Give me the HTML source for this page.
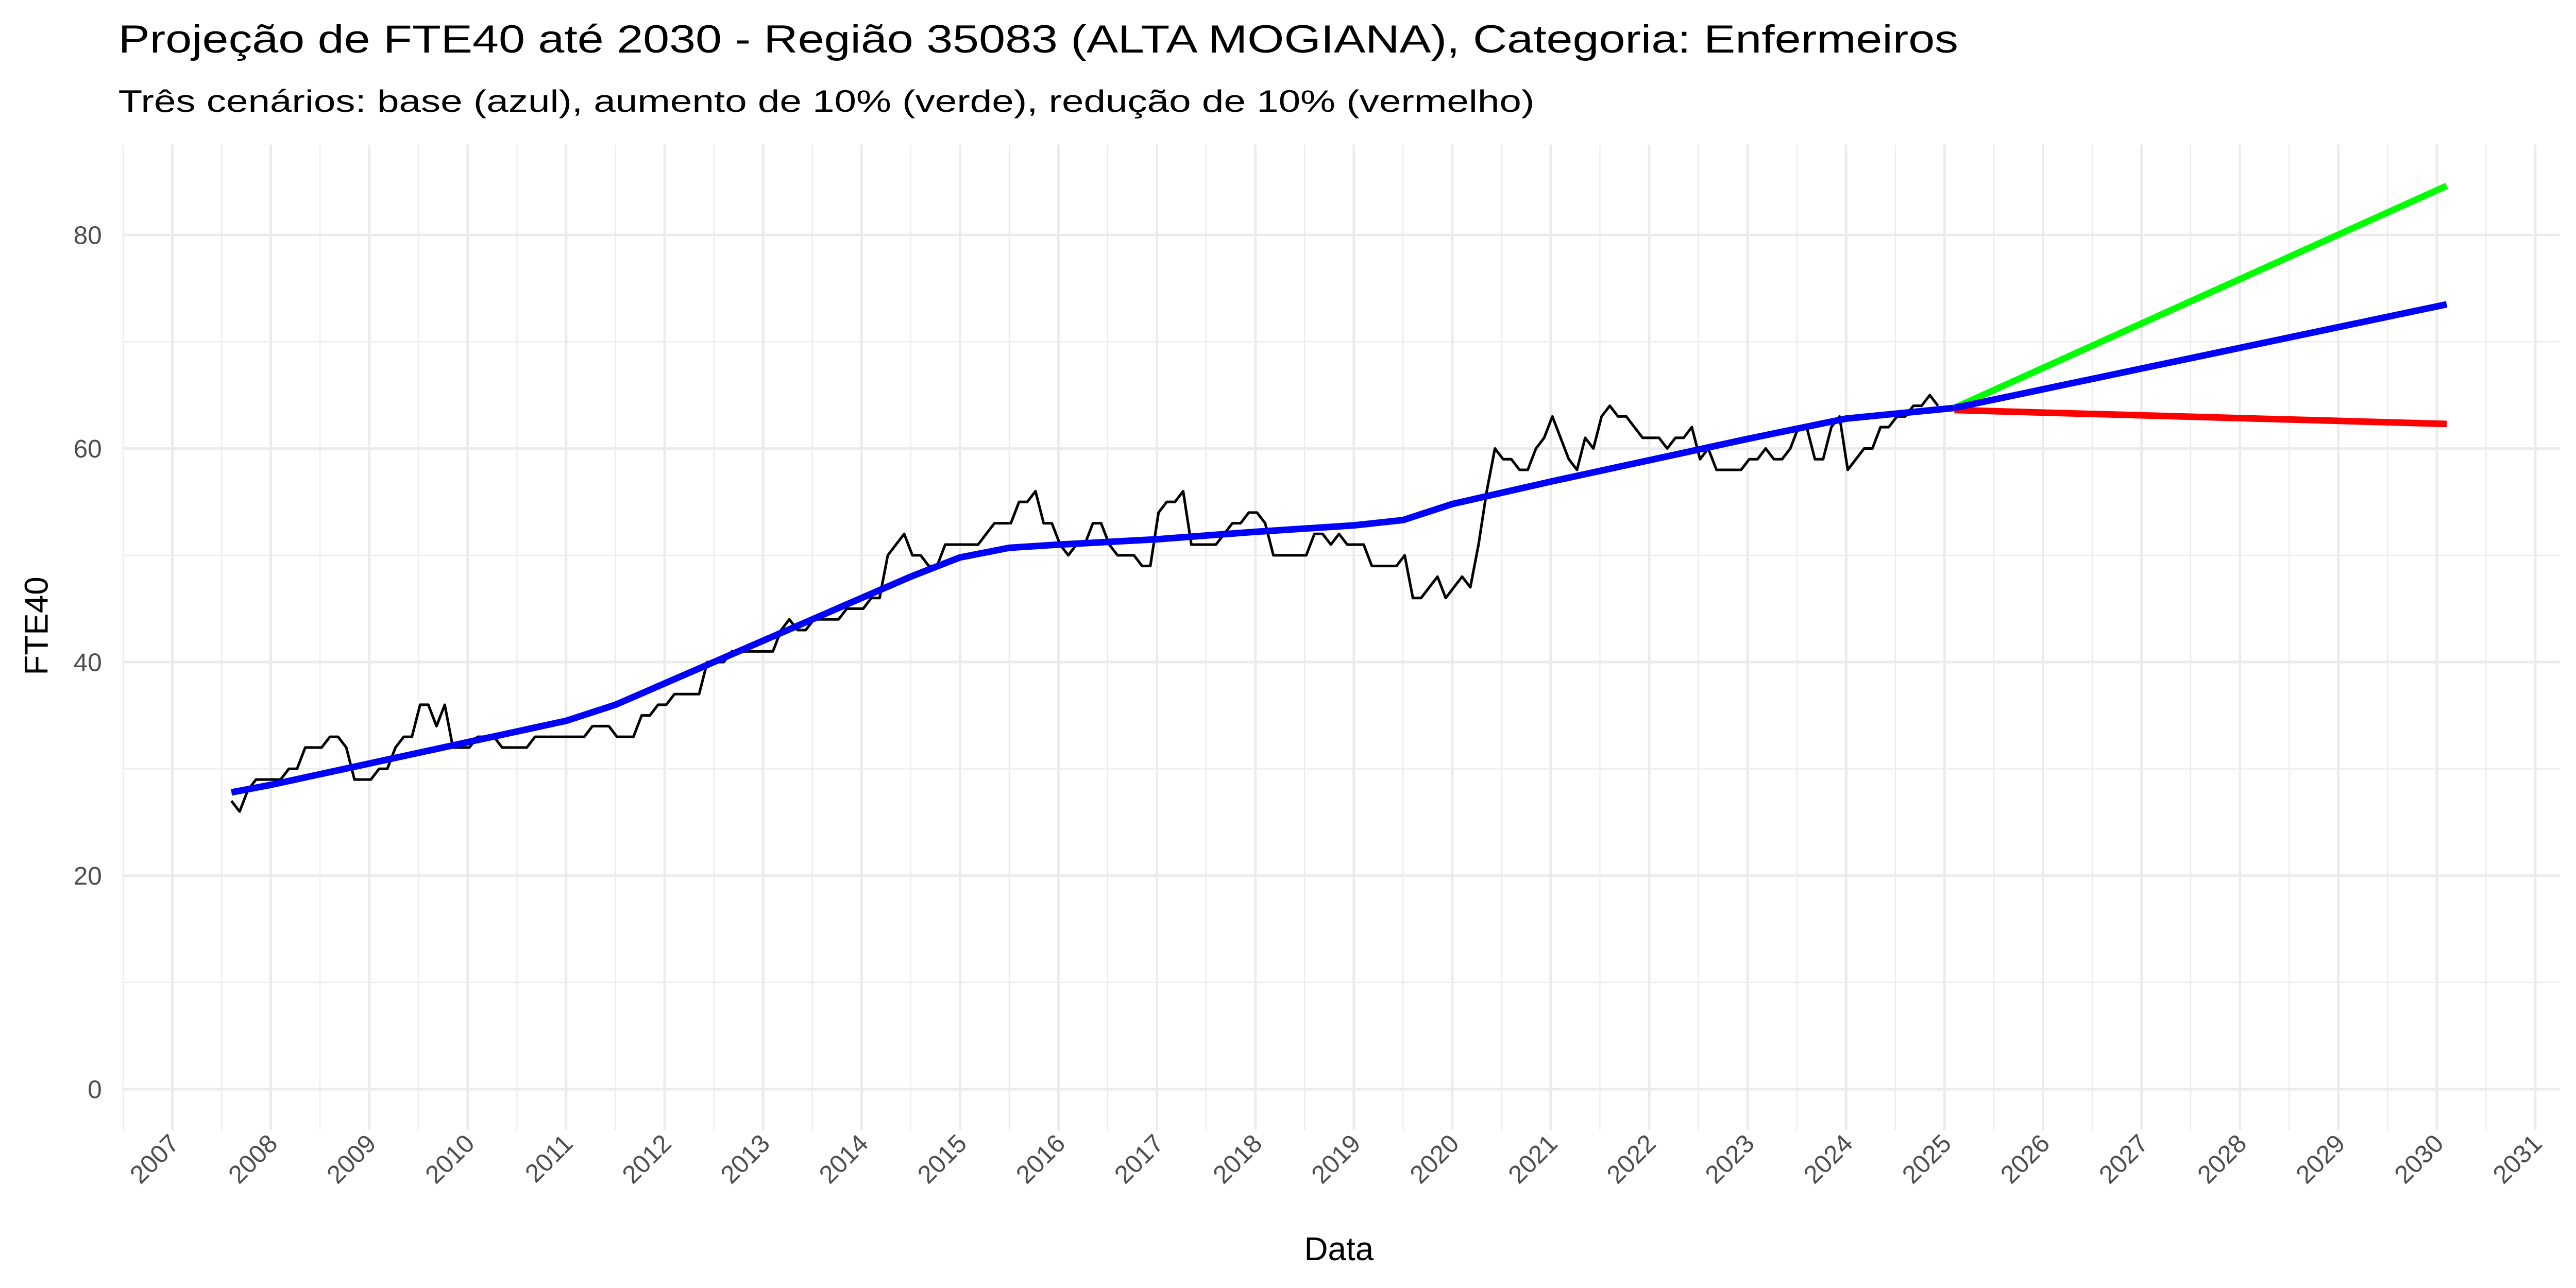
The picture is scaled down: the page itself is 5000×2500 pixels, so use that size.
<!DOCTYPE html>
<html><head><meta charset="utf-8">
<style>
html,body{margin:0;padding:0;background:#fff;}
svg{display:block;font-family:"Liberation Sans",Arial,sans-serif;}
</style></head>
<body>
<svg id="chart" width="5000" height="2500" viewBox="0 0 1568 784" xmlns="http://www.w3.org/2000/svg">
  <rect x="0" y="0" width="1568" height="784" fill="#fff"/>
  <text x="72" y="32" font-size="24" fill="#000" textLength="1120" lengthAdjust="spacingAndGlyphs">Projeção de FTE40 até 2030 - Região 35083 (ALTA MOGIANA), Categoria: Enfermeiros</text>
  <text x="72" y="68" font-size="19" fill="#000" textLength="862" lengthAdjust="spacingAndGlyphs">Três cenários: base (azul), aumento de 10% (verde), redução de 10% (vermelho)</text>
  <g id="grid"></g>
  <g id="yticks"></g>
  <g id="xticks"></g>
  <g id="series"></g>
  <text x="815" y="767" font-size="20" fill="#000" text-anchor="middle">Data</text>
  <text transform="translate(29,381) rotate(-90)" font-size="20" fill="#000" text-anchor="middle">FTE40</text>
</svg>
<script>
const yTicks = [0, 20, 40, 60, 80];
const xTickYears = [2007,2008,2009,2010,2011,2012,2013,2014,2015,2016,2017,2018,2019,2020,2021,2022,2023,2024,2025,2026,2027,2028,2029,2030,2031];
const obsStart = 2007.6;
const obsValues = [27,26,28,29,29,29,29,
30,30,32,32,32,33,33,32,
29,29,29,30,30,32,33,33,36,36,34,36,
32,32,32,33,33,33,32,32,32,32,
33,33,33,33,33,33,33,
34,34,34,33,33,33,35,35,36,36,
37,37,37,37,40,40,40,
41,41,41,41,41,41,
43,44,43,43,44,44,44,44,45,45,45,46,46,
50,51,52,50,50,49,49,
51,51,51,51,51,52,53,53,53,55,55,56,
53,53,51,50,51,51,53,53,51,50,50,50,49,49,
54,55,55,56,51,51,51,51,52,53,53,54,54,53,
50,50,50,50,50,52,52,51,52,51,51,51,
49,49,49,49,50,46,46,47,48,46,47,48,47,
51,56,60,59,59,58,58,60,61,63,61,59,58,61,60,63,64,63,63,62,
61,61,61,60,61,61,62,59,60,58,58,58,58,59,59,60,59,59,60,62,62,
59,59,62,63,58,59,60,60,62,62,63,63,64,64,65,64];
const trendYears = [2007.6,2008,2009,2010,2011,2011.5,2012,2012.5,2013,2013.5,2014,2014.5,2015,2015.5,2016,2017,2018,2019,2019.5,2020,2021,2022,2023,2024,2025.1];
const trendValues = [27.8,28.5,30.5,32.5,34.5,36,38,40,42,44,46,48,49.8,50.7,51.0,51.5,52.2,52.8,53.3,54.8,56.9,58.9,60.9,62.8,63.8];
const projYears = [2025.1,2030.1];
const baseProj = [63.8,73.5];
const upProj = [63.8,84.6];
const downProj = [63.6,62.3];

const NS = "http://www.w3.org/2000/svg";
const panel = {left:75, right:1558, top:88, bottom:688};
function xs(yr){ return 104.9 + (yr - 2007) * 59.93; }
function ys(v){ return 663 - v * 6.5; }
function mk(tag, attrs, parent){
  const el = document.createElementNS(NS, tag);
  for (const k in attrs) el.setAttribute(k, attrs[k]);
  parent.appendChild(el);
  return el;
}
const grid = document.getElementById('grid');
for (let i = 0; i < yTicks.length - 1; i++) {
  const v = (yTicks[i] + yTicks[i+1]) / 2;
  const l = mk('line', {x1:panel.left, x2:panel.right, y1:ys(v), y2:ys(v), stroke:'#ebebeb', 'stroke-width':0.7}, grid);
  
  
}
for (let i = 0; i < xTickYears.length; i++) {
  const yr = xTickYears[i] - 0.5;
  const l = mk('line', {x1:xs(yr), x2:xs(yr), y1:panel.top, y2:panel.bottom, stroke:'#ebebeb', 'stroke-width':0.7}, grid);
  
  
}
const yt = document.getElementById('yticks');
yTicks.forEach(v => {
  const l = mk('line', {x1:panel.left, x2:panel.right, y1:ys(v), y2:ys(v), stroke:'#ebebeb', 'stroke-width':1.5}, grid);
  
  
  const t = mk('text', {x:62, y:ys(v)+5.5, 'font-size':15.5, fill:'#4d4d4d', 'text-anchor':'end'}, yt);
  t.textContent = v;
  
  
});
const xt = document.getElementById('xticks');
xTickYears.forEach(yr => {
  const x = xs(yr);
  const l = mk('line', {x1:x, x2:x, y1:panel.top, y2:panel.bottom, stroke:'#ebebeb', 'stroke-width':1.5}, grid);
  
  
  const t = mk('text', {transform:'translate(' + (x + 5) + ',697) rotate(-45)', 'font-size':15.5, fill:'#4d4d4d', 'text-anchor':'end'}, xt);
  t.textContent = yr;
  
  
});
const series = document.getElementById('series');
function poly(xsArr, vals, color, w, name){
  const pts = xsArr.map((yr, i) => xs(yr).toFixed(2) + ',' + ys(vals[i]).toFixed(2)).join(' ');
  const p = mk('polyline', {points:pts, fill:'none', stroke:color, 'stroke-width':w, 'stroke-linejoin':'round'}, series);
  
  
}
const obsYears = obsValues.map((v, i) => obsStart + i / 12);
poly(obsYears, obsValues, '#000', 1.6, 'observed-fte40-line');
poly(trendYears, trendValues, '#0000ff', 4, 'base-trend-line');
poly(projYears, upProj, '#00ff00', 4, 'increase-10-projection-line');
poly(projYears, downProj, '#ff0000', 4, 'decrease-10-projection-line');
poly(projYears, baseProj, '#0000ff', 4, 'base-projection-line');
</script>
</body></html>
